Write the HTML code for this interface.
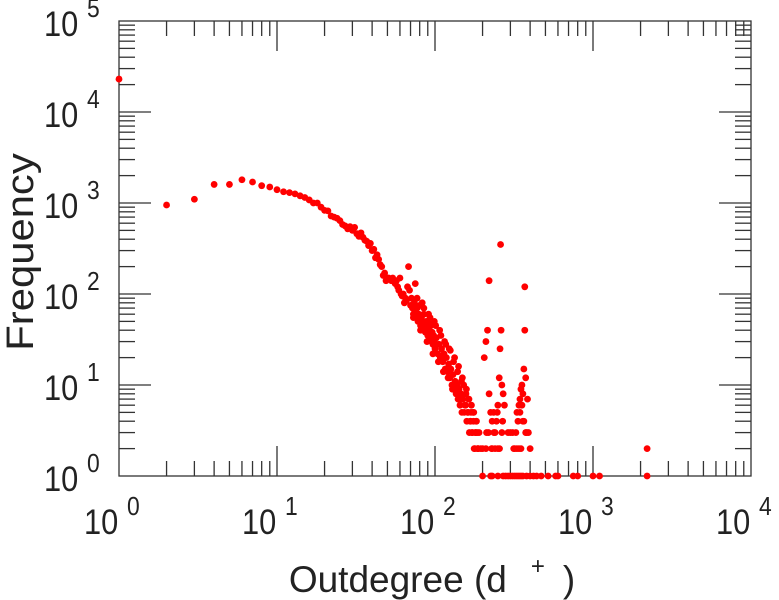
<!DOCTYPE html>
<html><head><meta charset="utf-8"><style>
html,body{margin:0;padding:0;background:#fff;}
svg{display:block;font-family:"Liberation Sans",sans-serif;}
</style></head><body>
<svg id="chart" width="779" height="600" viewBox="0 0 779 600">
<g id="axes"></g>
<g id="points"></g>
<g id="labels"></g>
<text transform="translate(432,592) scale(1.0,1)" font-size="37" text-anchor="middle" fill="#222">Outdegree (d<tspan dx="24" dy="-18" font-size="24">+</tspan><tspan dx="18" dy="18">)</tspan></text>
<text transform="translate(33,252) rotate(-90) scale(1.1,1)" font-size="38" text-anchor="middle" fill="#222">Frequency</text>
</svg>
<script>
const degrees = [1,2,3,4,5,6,7,8,9,10,11,12,13,14,15,16,17,18,19,20,21,22,23,24,25,26,27,28,29,30,31,32,33,34,35,36,37,38,39,40,41,42,43,44,45,46,47,48,49,50,51,52,53,54,55,56,57,58,59,60,61,62,63,64,65,66,67,68,70,71,72,73,74,75,76,77,78,79,80,81,82,83,84,85,86,87,88,89,90,91,92,93,94,95,96,97,98,99,100,102,104,106,108,110,112,114,116,118,120,122,124,126,128,130,132,134,136,138,140,142,144,146,148,150,153,156,159,162,165,168,171,174,177,180,183,186,190,195,200,
69,73,77,81,85,89,93,97,101,105,109,113,117,121,125,129,133,137,141,145,149,152,155,158,161,164,167,170,173,176,179,182,185,188,
75,83,91,99,107,115,123,131,139,147,157,163,169,175,181,187,
220,215,210,205,220,225,230,240,250,260,262,258,255,265,270,275,265,250,240,230,210,200,245,235,212,218,228,236,248,256,268,
370,370,365,355,350,345,340,330,335,380,375,360,385,350,340,330,320,310,300,290,390,400,360,345,355,365,375,325,315,
280,290,300,310,320,330,340,350,360,380,400,420,440,470,520,580,600,750,800,1000,1100,2200,2200,230,250,270,225];
const frequencies = [23000,950,1100,1600,1600,1800,1700,1550,1500,1400,1330,1300,1260,1200,1150,1080,1000,1000,900,830,820,720,700,680,640,580,560,520,550,500,540,460,430,470,420,390,380,340,360,300,310,250,270,240,210,200,160,170,140,150,150,145,140,150,140,130,140,120,110,150,100,95,100,80,90,85,120,200,75,90,70,60,80,65,55,70,50,60,75,45,55,50,40,60,45,38,50,42,35,48,40,32,45,30,38,28,35,30,25,33,22,28,20,25,18,22,15,20,14,17,12,15,10,13,9,11,8,10,7,9,6,8,5,7,5,6,4,5,3,4,3,5,2,3,4,2,3,2,1,
110,55,90,40,70,30,55,22,45,18,35,14,28,12,24,9,20,8,16,7,12,10,6,9,5,7,4,6,3,5,2,4,3,2,
130,80,60,50,40,30,25,18,14,11,8,7,5,4,3,2,
140,40,30,20,8,5,4,3,6,350,40,25,12,10,8,6,3,2,2,2,2,2,4,5,3,3,2,3,5,2,4,
120,40,15,10,9,7,6,5,4,3,12,8,7,2,2,2,2,3,3,3,3,2,4,5,6,4,3,3,2,
1,1,1,1,1,1,1,1,1,1,1,1,1,1,1,1,1,1,1,1,1,2,1,1,1,1,1];
const xTickLabels = ["0","1","2","3","4"];
const yTickLabels = ["0","1","2","3","4","5"];

const L=119,R=751,T=21,B=476;
const xDec=(R-L)/4, yDec=(B-T)/5;
const xs=d=>L+xDec*Math.log10(d);
const ys=f=>B-yDec*Math.log10(f);
const NS="http://www.w3.org/2000/svg";
const axes=document.getElementById('axes');
function line(x1,y1,x2,y2,name){
  const l=document.createElementNS(NS,'line');
  l.setAttribute('x1',x1);l.setAttribute('y1',y1);l.setAttribute('x2',x2);l.setAttribute('y2',y2);
  l.setAttribute('stroke','#333');l.setAttribute('stroke-width','1.3');
  
  
  axes.appendChild(l);
}
const fr=document.createElementNS(NS,'rect');
fr.setAttribute('x',L);fr.setAttribute('y',T);fr.setAttribute('width',R-L);fr.setAttribute('height',B-T);
fr.setAttribute('fill','none');fr.setAttribute('stroke','#333');fr.setAttribute('stroke-width','1.3');


axes.appendChild(fr);
for(let e=0;e<4;e++){for(let m=1;m<10;m++){
  const x=xs(Math.pow(10,e)*m); const len=m===1?30:15;
  if(m===1&&e===0)continue;
  line(x,B,x,B-len,'x-tick');line(x,T,x,T+len,'x-tick');
}}
for(let e=0;e<5;e++){for(let m=1;m<10;m++){
  const y=ys(Math.pow(10,e)*m); const len=m===1?32:16;
  if(m===1&&e===0)continue;
  line(L,y,L+len,y,'y-tick');line(R,y,R-len,y,'y-tick');
}}
const labels=document.getElementById('labels');
function tlabel(x,y,exp,name){
  const t=document.createElementNS(NS,'text');
  t.setAttribute('transform','translate('+x+','+y+') scale(0.88,1)');
  t.setAttribute('font-size','35');t.setAttribute('fill','#222');
  t.innerHTML='10<tspan dx="10" dy="-19" font-size="26">'+exp+'</tspan>';
  
  
  labels.appendChild(t);
}
xTickLabels.forEach((s,i)=>tlabel(L+xDec*i-35,534,s,'x-tick-label'));
yTickLabels.forEach((s,i)=>tlabel(44,B-yDec*i+15,s,'y-tick-label'));
const pts=document.getElementById('points');
degrees.forEach((d,i)=>{
  const c=document.createElementNS(NS,'circle');
  c.setAttribute('cx',xs(d));c.setAttribute('cy',ys(frequencies[i]));c.setAttribute('r','3.4');c.setAttribute('fill','#f00');
  
  
  pts.appendChild(c);
});
</script>
</body></html>
